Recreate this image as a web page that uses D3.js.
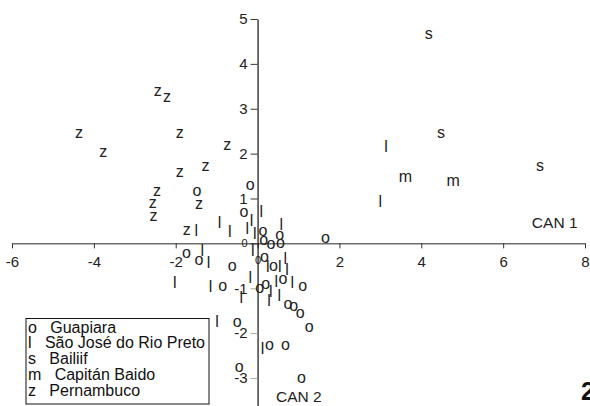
<!DOCTYPE html>
<html>
<head>
<meta charset="utf-8">
<script src="https://cdn.jsdelivr.net/npm/d3@7"></script>
<style>
  body { margin: 0; background: #fff; }
  svg { font-family: "Liberation Sans", Arial, sans-serif; }
</style>
</head>
<body>
<svg id="chart" width="590" height="406"></svg>
<script>
// canonical scores (CAN 1, CAN 2) per population
const guapiara = [
  [-1.48, 1.15], [-0.18, 1.28], [-0.33, 0.69], [0.13, 0.26], [0.54, 0.17],
  [0.15, 0.06], [0.33, -0.03], [0.56, 0.0], [1.66, 0.11], [-1.74, -0.22],
  [-1.43, -0.39], [-0.62, -0.53], [0.17, -0.33], [0.39, -0.52], [-0.85, -0.97],
  [0.20, -0.92], [0.05, -1.00], [0.62, -0.80], [1.10, -0.97], [0.74, -1.36],
  [0.88, -1.41], [1.04, -1.57], [1.26, -1.88], [-0.50, -1.77], [0.29, -2.29],
  [0.68, -2.29], [-0.45, -2.76], [1.07, -3.01]
];
const saoJose = [
  [3.14, 2.17], [3.00, 0.94], [0.09, 0.72], [-0.93, 0.47], [-0.68, 0.28],
  [-0.25, 0.33], [-0.15, 0.51], [-0.07, 0.22], [0.58, 0.42], [-1.50, 0.29],
  [-1.35, -0.15], [-0.12, -0.16], [-1.20, -0.42], [0.25, -0.52], [0.54, -0.51],
  [0.68, -0.33], [0.72, -0.58], [-2.02, -0.86], [-1.15, -0.95], [-0.18, -0.75],
  [-0.40, -1.20], [0.46, -0.84], [0.85, -0.87], [0.32, -1.07], [0.28, -1.26],
  [0.53, -1.15], [-0.99, -1.73], [0.12, -2.33]
];
const bailiif = [[4.18, 4.64], [4.48, 2.45], [6.90, 1.72]];
const capitanBaido = [[3.61, 1.47], [4.78, 1.37]];
const pernambuco = [
  [-2.44, 3.37], [-2.21, 3.24], [-4.36, 2.44], [-1.90, 2.44], [-3.77, 2.03],
  [-0.74, 2.17], [-1.27, 1.72], [-1.90, 1.57], [-2.46, 1.16], [-2.56, 0.88],
  [-2.54, 0.59], [-1.43, 0.86], [-1.73, 0.28]
];

const symbols = ["o", "l", "s", "m", "z"];
const groupNames = ["Guapiara", "São José do Rio Preto", "Bailiif", "Capitán Baido", "Pernambuco"];
const groupData = [guapiara, saoJose, bailiif, capitanBaido, pernambuco];

const xTicks = [-6, -4, -2, 0, 2, 4, 6, 8];
const yTicks = [-3, -2, -1, 0, 1, 2, 3, 4, 5];

const svg = d3.select("#chart");

const x = d3.scaleLinear().domain([-6, 8]).range([12, 585]);
const y = d3.scaleLinear().domain([-3.62, 5]).range([405.8, 19]);

// plain hyphen for negatives, like the original
const fmt = d => String(d);

// x axis (CAN 1)
const gx = svg.append("g")
  .attr("transform", `translate(0,${y(0)})`)
  .call(d3.axisBottom(x).tickValues(xTicks).tickFormat(fmt).tickSize(5).tickSizeOuter(0).tickPadding(8));
gx.select(".domain").attr("stroke", "#6e6e6e").attr("stroke-width", 1.5);
gx.selectAll(".tick line").attr("stroke", "#333");
gx.selectAll(".tick text")
  .attr("font-size", d => d === 0 ? 11 : 15)
  .attr("font-family", "Liberation Sans, Arial, sans-serif")
  .attr("fill", "#222");

// y axis (CAN 2)
const gy = svg.append("g")
  .attr("transform", `translate(${x(0)},0)`)
  .call(d3.axisLeft(y).tickValues(yTicks).tickFormat(fmt).tickSize(7).tickSizeOuter(0).tickPadding(3));
gy.select(".domain").attr("stroke", "#111").attr("stroke-width", 1.2);
gy.selectAll(".tick line").attr("stroke", d => d < 0 ? "#aaa" : "#333");
gy.selectAll(".tick text")
  .attr("font-size", d => d === 0 ? 11 : 15)
  .attr("font-family", "Liberation Sans, Arial, sans-serif")
  .attr("fill", "#222");

svg.append("text")
  .attr("x", 577.5).attr("y", 228.3)
  .attr("text-anchor", "end")
  .attr("font-size", 15.5)
  .attr("fill", "#222")
  .text("CAN 1");

svg.append("text")
  .attr("x", 276).attr("y", 402.3)
  .attr("font-size", 15.5)
  .attr("fill", "#222")
  .text("CAN 2");

// points drawn as letters
groupData.forEach((pts, gi) => {
  svg.append("g").selectAll("text")
    .data(pts)
    .enter()
    .append("text")
    .attr("x", d => x(d[0]))
    .attr("y", d => y(d[1]))
    .attr("dy", symbols[gi] === "l" ? "0.36em" : "0.27em")
    .attr("text-anchor", "middle")
    .attr("font-size", 16)
    .attr("fill", "#222")
    .text(symbols[gi]);
});

// legend
svg.append("rect")
  .attr("x", 26).attr("y", 318.5)
  .attr("width", 183).attr("height", 85.5)
  .attr("fill", "#fff")
  .attr("stroke", "#111")
  .attr("stroke-width", 1);

svg.append("g").selectAll("text")
  .data(groupNames)
  .enter()
  .append("text")
  .attr("x", 28)
  .attr("y", (d, i) => 332.7 + i * 15.7)
  .attr("font-size", 16)
  .attr("fill", "#111")
  .style("white-space", "pre")
  .text((d, i) => symbols[i] + "   " + d);

// panel label, cut off at the right edge
svg.append("text")
  .attr("x", 581).attr("y", 400)
  .attr("font-size", 25)
  .attr("font-weight", "bold")
  .attr("fill", "#111")
  .text("2");
</script>
</body>
</html>
